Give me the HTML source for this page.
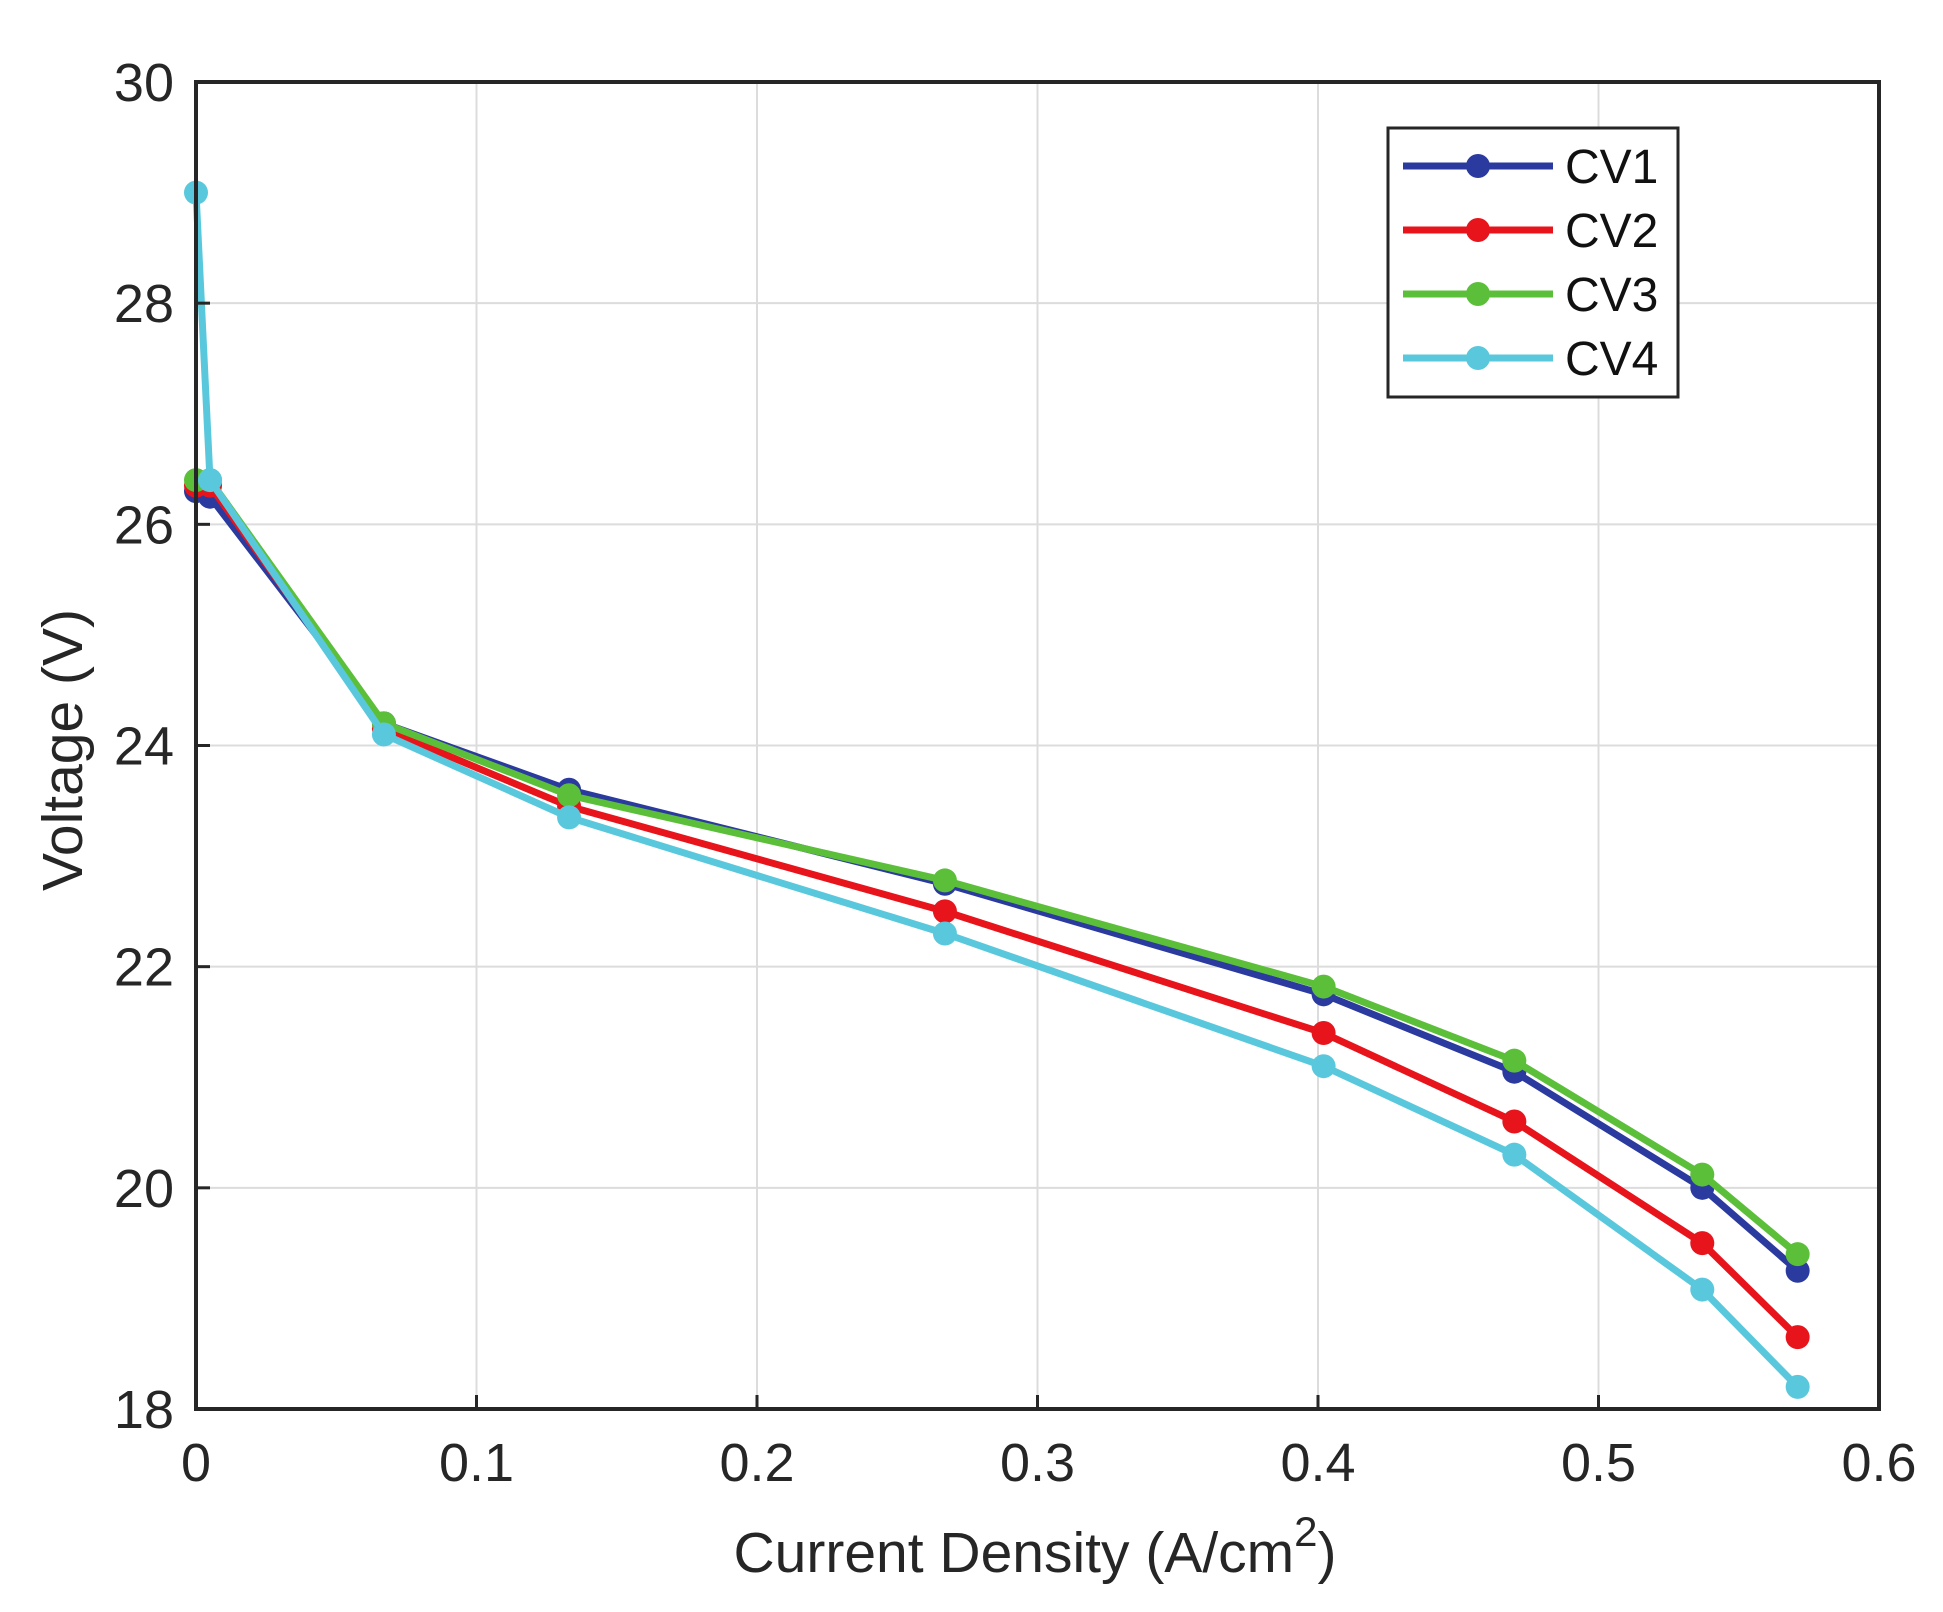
<!DOCTYPE html>
<html><head><meta charset="utf-8"><style>
html,body{margin:0;padding:0;background:#fff;}
svg{display:block;font-family:"Liberation Sans",Arial,sans-serif;}
</style></head><body>
<svg id="chart" width="1943" height="1612" viewBox="0 0 1943 1612" xmlns="http://www.w3.org/2000/svg">
<rect width="1943" height="1612" fill="#fff"/>
<g id="grid"></g>
<g id="series"></g>
<rect x="196" y="82" width="1683" height="1327" fill="none" stroke="#262626" stroke-width="4"/>
<g id="ticks"></g>
<text x="1035" y="1572" text-anchor="middle" font-size="57" fill="#262626">Current Density (A/cm<tspan dy="-26" font-size="42">2</tspan><tspan dy="26">)</tspan></text>
<text transform="translate(82,750) rotate(-90)" text-anchor="middle" font-size="57" fill="#262626">Voltage (V)</text>
<g id="legend"></g>
</svg>
<script>
const xValues = [0, 0.005, 0.067, 0.133, 0.267, 0.402, 0.47, 0.537, 0.571];
const cv1 = [26.3, 26.25, 24.2, 23.6, 22.75, 21.75, 21.05, 20.0, 19.25];
const cv2 = [26.35, 26.35, 24.15, 23.45, 22.5, 21.4, 20.6, 19.5, 18.65];
const cv3 = [26.4, 26.4, 24.2, 23.55, 22.78, 21.82, 21.15, 20.12, 19.4];
const cv4 = [29.0, 26.4, 24.1, 23.35, 22.3, 21.1, 20.3, 19.08, 18.2];
const seriesNames = ["CV1", "CV2", "CV3", "CV4"];
const xTicks = [0, 0.1, 0.2, 0.3, 0.4, 0.5, 0.6];
const xTickLabels = ["0", "0.1", "0.2", "0.3", "0.4", "0.5", "0.6"];
const yTicks = [18, 20, 22, 24, 26, 28, 30];
const yTickLabels = ["18", "20", "22", "24", "26", "28", "30"];

const L=196,R=1879,T=82,B=1409;
const sx=v=>L+(v-0)/(0.6-0)*(R-L);
const sy=v=>B-(v-18)/(30-18)*(B-T);
const NS="http://www.w3.org/2000/svg";
function mk(tag,attrs,parent){const e=document.createElementNS(NS,tag);for(const k in attrs)e.setAttribute(k,attrs[k]);parent.appendChild(e);return e;}
const grid=document.getElementById('grid'),ticks=document.getElementById('ticks'),sg=document.getElementById('series'),lg=document.getElementById('legend');
xTicks.forEach((t,i)=>{
  const x=sx(t);
  if(i>0&&i<xTicks.length-1){const g=mk('line',{x1:x,x2:x,y1:T,y2:B,stroke:'#dcdcdc','stroke-width':2},grid);
  
  }
  const tk=mk('line',{x1:x,x2:x,y1:B,y2:B-14,stroke:'#262626','stroke-width':3},ticks);
  
  
  const tl=mk('text',{x:x,y:B+72,'text-anchor':'middle','font-size':54,fill:'#262626'},ticks);
  tl.textContent=xTickLabels[i];
  
  
});
yTicks.forEach((t,i)=>{
  const y=sy(t);
  if(i>0&&i<yTicks.length-1){const g=mk('line',{x1:L,x2:R,y1:y,y2:y,stroke:'#dcdcdc','stroke-width':2},grid);
  
  }
  const tk=mk('line',{x1:L,x2:L+14,y1:y,y2:y,stroke:'#262626','stroke-width':3},ticks);
  
  
  const tl=mk('text',{x:L-22,y:y+19,'text-anchor':'end','font-size':54,fill:'#262626'},ticks);
  tl.textContent=yTickLabels[i];
  
  
});
const colors=['#2b3a9e','#e8141c','#5cbf3a','#5ac8dc'];
[cv1,cv2,cv3,cv4].forEach((vals,si)=>{
  const pts=vals.map((v,i)=>sx(xValues[i])+','+sy(v)).join(' ');
  const pl=mk('polyline',{points:pts,fill:'none',stroke:colors[si],'stroke-width':7,'stroke-linejoin':'round'},sg);
  
  
  vals.forEach((v,i)=>{
    const c=mk('circle',{cx:sx(xValues[i]),cy:sy(v),r:12,fill:colors[si]},sg);
    
    
  });
});
const box=mk('rect',{x:1388,y:128,width:290,height:269,fill:'#fff',stroke:'#262626','stroke-width':3},lg);


seriesNames.forEach((n,i)=>{
  const y=166+i*64;
  const ln=mk('line',{x1:1403,x2:1553,y1:y,y2:y,stroke:colors[i],'stroke-width':7},lg);
  
  
  const c=mk('circle',{cx:1478,cy:y,r:12,fill:colors[i]},lg);
  
  
  const t=mk('text',{x:1565,y:y+17,'font-size':48,fill:'#111'},lg);
  t.textContent=n;
  
  
});
</script>
</body></html>
